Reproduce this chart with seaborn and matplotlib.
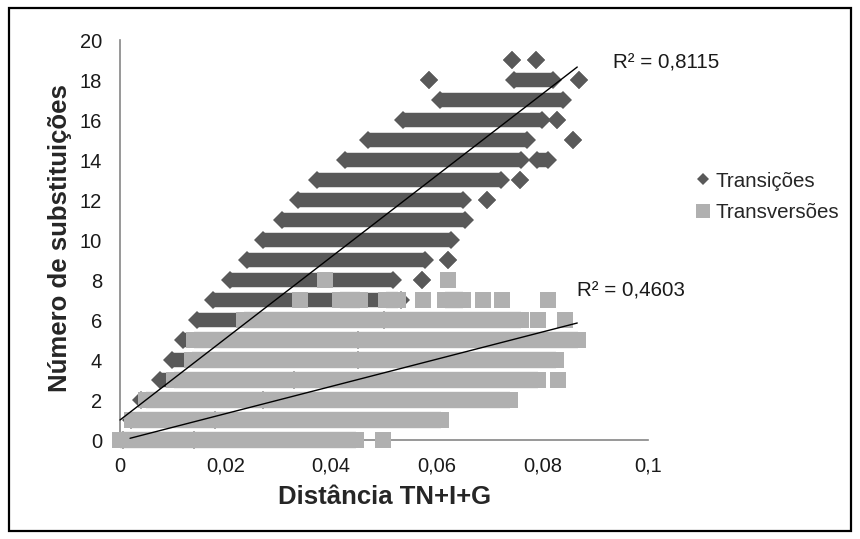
import numpy as np
import pandas as pd
import matplotlib
matplotlib.use("Agg")
import matplotlib.pyplot as plt
import seaborn as sns
from matplotlib.lines import Line2D
from matplotlib.patches import Rectangle

# ---------------- data ----------------
# Transições: each entry is a run of overlapping markers on one integer level
ti_y = [0, 1, 2, 3, 4, 5, 6, 7, 8, 8, 9, 9, 10, 11, 12, 12, 13, 13,
        14, 14, 15, 15, 16, 16, 17, 18, 18, 18, 19, 19]
ti_x_start = [0.0005, 0.0020, 0.0040, 0.0076, 0.0098, 0.0119, 0.0146, 0.0176,
              0.0208, 0.0572, 0.0240, 0.0621, 0.0271, 0.0307, 0.0337, 0.0695,
              0.0373, 0.0758, 0.0426, 0.0790, 0.0470, 0.0858, 0.0536, 0.0828,
              0.0606, 0.0585, 0.0746, 0.0869, 0.0742, 0.0788]
ti_x_end = [0.0140, 0.0180, 0.0270, 0.0330, 0.0450, 0.0450, 0.0500, 0.0532,
            0.0517, 0.0572, 0.0578, 0.0621, 0.0627, 0.0653, 0.0650, 0.0695,
            0.0722, 0.0758, 0.0759, 0.0811, 0.0771, 0.0858, 0.0799, 0.0828,
            0.0839, 0.0585, 0.0820, 0.0869, 0.0742, 0.0788]

# Transversões
tv_y = [0, 0, 1, 2, 3, 3, 4, 5, 6, 6, 6, 7, 7, 7, 7, 7, 7, 7, 7, 8, 8]
tv_x_start = [0.0000, 0.0498, 0.0023, 0.0049, 0.0102, 0.0830, 0.0136, 0.0140,
              0.0235, 0.0792, 0.0843, 0.0341, 0.0417, 0.0504, 0.0574, 0.0616,
              0.0688, 0.0723, 0.0811, 0.0388, 0.0621]
tv_x_end = [0.0447, 0.0498, 0.0608, 0.0739, 0.0792, 0.0830, 0.0826, 0.0867,
            0.0759, 0.0792, 0.0843, 0.0341, 0.0455, 0.0527, 0.0574, 0.0650,
            0.0688, 0.0723, 0.0811, 0.0388, 0.0621]

# linear trend lines (slope, intercept, x-range) and R² values
trend_slope = [203.8, 68.06]
trend_intercept = [1.0, -0.044]
trend_x_min = [0.0, 0.0019]
trend_x_max = [0.0866, 0.0866]
r2_labels = ["R² = 0,8115", "R² = 0,4603"]

series_names = ["Transições", "Transversões"]
x_ticks = [0, 0.02, 0.04, 0.06, 0.08, 0.1]
x_tick_labels = ["0", "0,02", "0,04", "0,06", "0,08", "0,1"]
y_ticks = [0, 2, 4, 6, 8, 10, 12, 14, 16, 18, 20]
y_tick_labels = ["0", "2", "4", "6", "8", "10", "12", "14", "16", "18", "20"]


def runs_frame(ys, x0, x1):
    n = len(ys)
    return pd.DataFrame({
        "seg": np.repeat(np.arange(n), 2),
        "x": np.column_stack([x0, x1]).ravel(),
        "y": np.repeat(ys, 2),
    })


df_ti = runs_frame(ti_y, ti_x_start, ti_x_end)
df_tv = runs_frame(tv_y, tv_x_start, tv_x_end)

# ---------------- style ----------------
sns.set_style("white")
plt.rcParams["font.family"] = ["Liberation Sans", "DejaVu Sans"]

DARK = "#595959"
LIGHT = "#b0b0b0"
AXC = "#868686"

fig = plt.figure(figsize=(8.6, 5.39), dpi=100)
ax = fig.add_axes([120 / 860, 1 - 440 / 539, 528 / 860, 400 / 539])

# Transições: dark diamonds
sns.lineplot(data=df_ti, x="x", y="y", units="seg", estimator=None, sort=False,
             color=DARK, linewidth=10.4, solid_capstyle="butt",
             marker="D", markersize=9.4, markeredgewidth=0,
             clip_on=False, zorder=3, legend=False, ax=ax)
# Transversões: light squares
sns.lineplot(data=df_tv, x="x", y="y", units="seg", estimator=None, sort=False,
             color=LIGHT, linewidth=11.8, solid_capstyle="butt",
             marker="s", markersize=11.8, markeredgewidth=0,
             clip_on=False, zorder=4, legend=False, ax=ax)

# trend lines
for s, b, xa, xb in zip(trend_slope, trend_intercept, trend_x_min, trend_x_max):
    tx = np.array([xa, xb])
    sns.lineplot(x=tx, y=s * tx + b, color="black", linewidth=1.0,
                 estimator=None, sort=False, zorder=5, clip_on=False, ax=ax)

ax.text(0.0934, 18.85, r2_labels[0], fontsize=14.8, va="center", ha="left", color="#1a1a1a")
ax.text(0.0866, 7.45, r2_labels[1], fontsize=14.8, va="center", ha="left", color="#1a1a1a")

# axes
ax.set_xlim(0, 0.1)
ax.set_ylim(0, 20)
ax.set_xticks(x_ticks)
ax.set_xticklabels(x_tick_labels)
ax.set_yticks(y_ticks)
ax.set_yticklabels(y_tick_labels)
ax.set_xlabel("")
ax.set_ylabel("")
for side in ["top", "right"]:
    ax.spines[side].set_visible(False)
for side in ["left", "bottom"]:
    ax.spines[side].set_color(AXC)
    ax.spines[side].set_linewidth(1.2)
    ax.spines[side].set_zorder(2)
ax.tick_params(axis="both", which="major", direction="out", length=5,
               width=1.0, color=AXC, labelsize=14.5, labelcolor="#1a1a1a")
ax.tick_params(axis="y", pad=8)
ax.tick_params(axis="x", pad=7)
ax.set_facecolor("none")

fig.text(60 / 860, 1 - 238 / 539, "Número de substituições", rotation=90,
         fontsize=18.5, fontweight="bold", ha="center", va="center")
fig.text(385 / 860, 1 - 497 / 539, "Distância TN+I+G",
         fontsize=18.5, fontweight="bold", ha="center", va="center")

# legend
handles = [Line2D([], [], ls="", marker="D", color=DARK, markersize=6.6, markeredgewidth=0),
           Line2D([], [], ls="", marker="s", color=LIGHT, markersize=9.8, markeredgewidth=0)]
fig.legend(handles, series_names, loc="center left",
           bbox_to_anchor=(697 / 860, 1 - 197 / 539), frameon=False,
           fontsize=14.8, handlelength=0.6, handletextpad=0.28,
           borderpad=0, borderaxespad=0, labelspacing=0.62)

# outer frame
fig.patches.append(Rectangle((9 / 860, 8 / 539), 842 / 860, 523 / 539,
                             transform=fig.transFigure, fill=False,
                             edgecolor="black", linewidth=1.6))

fig.savefig("out.png", dpi=100)
